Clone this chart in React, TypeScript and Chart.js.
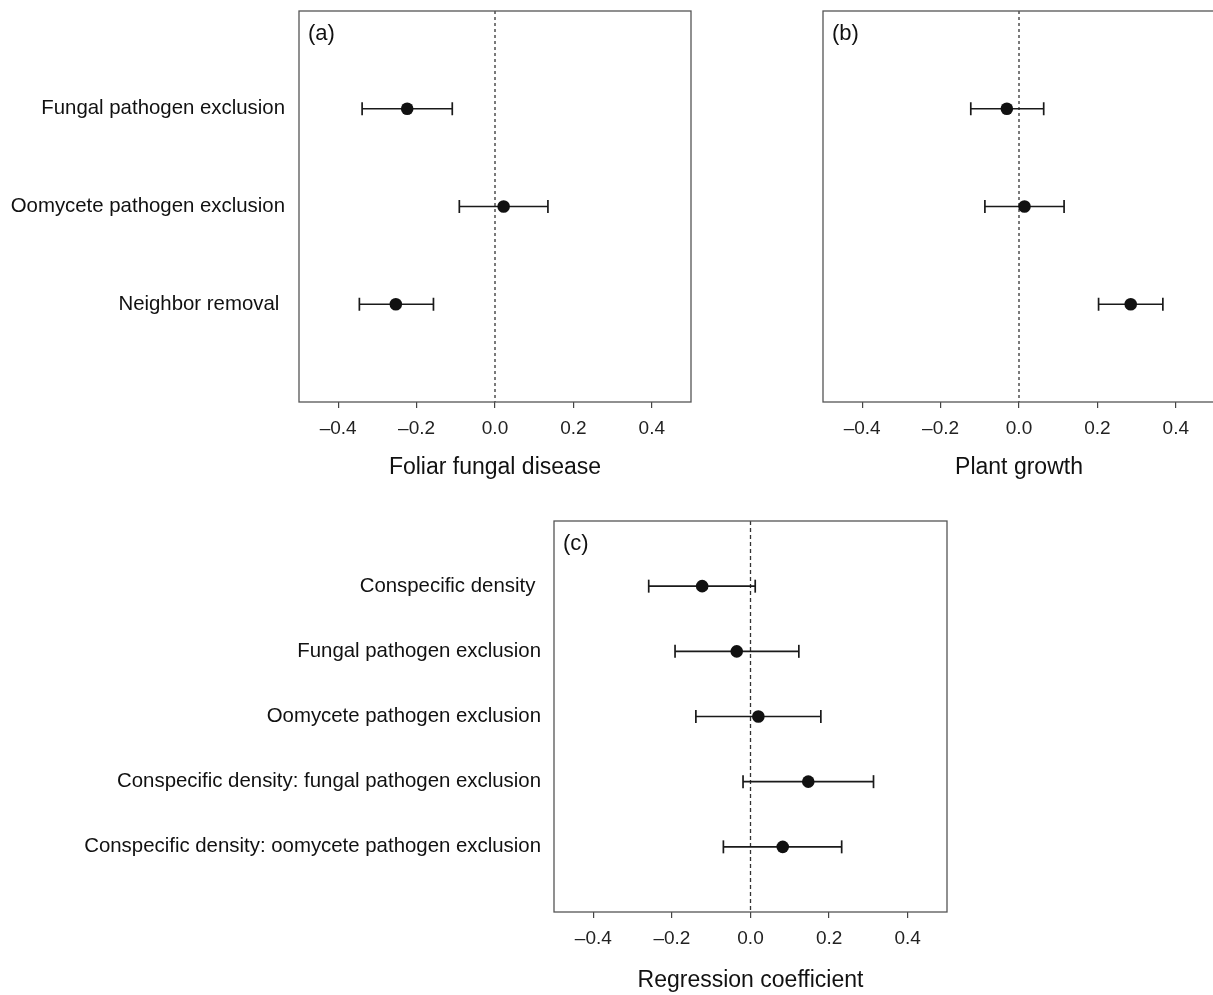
import React, { useEffect, useRef } from 'react';
import { Chart, registerables } from 'chart.js';

Chart.register(...registerables);

const FONT = "'Liberation Sans', Arial, Helvetica, sans-serif";

// x-axis tick values shared by all panels
const xTicks = [-0.4, -0.2, 0, 0.2, 0.4];

// Panel (a): Foliar fungal disease
const labelsA = ['Fungal pathogen exclusion', 'Oomycete pathogen exclusion', 'Neighbor removal '];
const estA = [-0.224, 0.022, -0.253];
const loA = [-0.339, -0.091, -0.346];
const hiA = [-0.109, 0.135, -0.157];

// Panel (b): Plant growth
const labelsB = ['Fungal pathogen exclusion', 'Oomycete pathogen exclusion', 'Neighbor removal '];
const estB = [-0.031, 0.014, 0.285];
const loB = [-0.123, -0.087, 0.203];
const hiB = [0.063, 0.115, 0.367];

// Panel (c): Regression coefficient
const labelsC = [
  'Conspecific density ',
  'Fungal pathogen exclusion',
  'Oomycete pathogen exclusion',
  'Conspecific density: fungal pathogen exclusion',
  'Conspecific density: oomycete pathogen exclusion',
];
const estC = [-0.123, -0.035, 0.02, 0.147, 0.082];
const loC = [-0.259, -0.192, -0.139, -0.019, -0.069];
const hiC = [0.012, 0.123, 0.179, 0.313, 0.232];

const fmt = (v: number) => {
  const a = Math.abs(v).toFixed(1);
  return v < -1e-9 ? '\u2013' + a : a;
};

const framePlugin = {
  id: 'frame',
  afterDraw(chart: any, _args: any, opts: any) {
    const { ctx, chartArea } = chart;
    const { left, top, right, bottom } = chartArea;
    ctx.save();
    ctx.strokeStyle = '#555';
    ctx.lineWidth = 1.3;
    ctx.strokeRect(left, top, right - left, bottom - top);
    ctx.fillStyle = '#111';
    ctx.font = `22px ${FONT}`;
    ctx.textBaseline = 'middle';
    ctx.textAlign = 'left';
    ctx.fillText(opts.tag, left + 9, top + 23);
    ctx.restore();
  },
};

interface PanelCfg {
  labels: string[];
  est: number[];
  lo: number[];
  hi: number[];
  tag: string;
  title: string;
  showY: boolean;
  yWidth: number;
  xHeight: number;
  padding: { top: number; right: number; bottom: number; left: number };
  titlePad: number;
  labelPad: number;
  dash: number[];
}

function buildConfig(p: PanelCfg): any {
  const n = p.labels.length;
  const rows = p.labels.map((_, i) => i + 1);
  const datasets: any[] = [
    {
      data: p.est.map((v, i) => ({ x: v, y: rows[i] })),
      pointRadius: 6.3,
      pointHoverRadius: 6.3,
      pointBackgroundColor: '#111',
      pointBorderColor: '#111',
      pointBorderWidth: 0,
    },
    ...p.lo.map((l, i) => ({
      showLine: true,
      data: [
        { x: l, y: rows[i] },
        { x: p.hi[i], y: rows[i] },
      ],
      borderColor: '#1a1a1a',
      borderWidth: 1.7,
      pointStyle: 'line',
      pointRotation: 90,
      pointRadius: 6.5,
      pointHoverRadius: 6.5,
      pointBorderColor: '#1a1a1a',
      pointBorderWidth: 1.7,
      pointBackgroundColor: '#1a1a1a',
    })),
    {
      showLine: true,
      data: [
        { x: 0, y: 0 },
        { x: 0, y: n + 1 },
      ],
      borderColor: '#333',
      borderWidth: 1.3,
      borderDash: p.dash,
      pointRadius: 0,
      pointHoverRadius: 0,
    },
  ];

  return {
    type: 'scatter',
    data: { datasets },
    plugins: [framePlugin],
    options: {
      animation: false,
      responsive: false,
      events: [],
      layout: { padding: p.padding },
      plugins: {
        legend: { display: false },
        tooltip: { enabled: false },
        frame: { tag: p.tag },
      },
      scales: {
        x: {
          type: 'linear',
          min: -0.5,
          max: 0.5,
          afterBuildTicks: (s: any) => {
            s.ticks = xTicks.map((v) => ({ value: v }));
          },
          afterFit: (s: any) => {
            s.height = p.xHeight;
            s.paddingLeft = 0;
            s.paddingRight = 0;
          },
          grid: {
            display: true,
            drawOnChartArea: false,
            drawTicks: true,
            tickLength: 6,
            color: '#444',
            lineWidth: 1.2,
          },
          border: { display: false },
          ticks: {
            font: { family: FONT, size: 19 },
            color: '#222',
            padding: 9,
            maxRotation: 0,
            autoSkip: false,
            callback: (v: any) => fmt(Number(v)),
          },
          title: {
            display: true,
            text: p.title,
            font: { family: FONT, size: 23 },
            color: '#111',
            padding: { top: 0, bottom: p.titlePad },
          },
        },
        y: {
          type: 'linear',
          min: 0,
          max: n + 1,
          reverse: true,
          afterBuildTicks: (s: any) => {
            s.ticks = rows.map((v) => ({ value: v }));
          },
          afterFit: (s: any) => {
            s.width = p.yWidth;
            s.paddingTop = 0;
            s.paddingBottom = 0;
          },
          grid: { display: false, drawTicks: false, tickLength: 0 },
          border: { display: false },
          ticks: {
            display: p.showY,
            font: { family: FONT, size: 20.4 },
            color: '#111',
            padding: p.labelPad,
            autoSkip: false,
            callback: (v: any) => p.labels[Number(v) - 1] ?? '',
          },
        },
      },
    },
  };
}

function Panel(props: { cfg: PanelCfg; left: number; top: number; width: number; height: number }) {
  const ref = useRef<HTMLCanvasElement | null>(null);
  useEffect(() => {
    const chart = new Chart(ref.current as HTMLCanvasElement, buildConfig(props.cfg));
    return () => chart.destroy();
  }, []);
  return (
    <canvas
      ref={ref}
      width={props.width}
      height={props.height}
      style={{ position: 'absolute', left: props.left, top: props.top, width: props.width, height: props.height }}
    />
  );
}

const cfgA: PanelCfg = {
  labels: labelsA,
  est: estA,
  lo: loA,
  hi: hiA,
  tag: '(a)',
  title: 'Foliar fungal disease',
  showY: true,
  yWidth: 299,
  xHeight: 98,
  padding: { top: 11, right: 69, bottom: 0, left: 0 },
  titlePad: 19,
  labelPad: 14,
  dash: [3, 3],
};

const cfgB: PanelCfg = {
  labels: labelsB,
  est: estB,
  lo: loB,
  hi: hiB,
  tag: '(b)',
  title: 'Plant growth',
  showY: false,
  yWidth: 63,
  xHeight: 98,
  padding: { top: 11, right: 65, bottom: 0, left: 0 },
  titlePad: 19,
  labelPad: 14,
  dash: [3, 3],
};

const cfgC: PanelCfg = {
  labels: labelsC,
  est: estC,
  lo: loC,
  hi: hiC,
  tag: '(c)',
  title: 'Regression coefficient',
  showY: true,
  yWidth: 554,
  xHeight: 83,
  padding: { top: 21, right: 53, bottom: 0, left: 0 },
  titlePad: 1,
  labelPad: 13,
  dash: [4, 3],
};

export default function App() {
  return (
    <div
      style={{
        position: 'fixed',
        left: 0,
        top: 0,
        width: 1213,
        height: 995,
        overflow: 'hidden',
        background: '#fff',
      }}
    >
      <Panel cfg={cfgA} left={0} top={0} width={760} height={500} />
      <Panel cfg={cfgB} left={760} top={0} width={520} height={500} />
      <Panel cfg={cfgC} left={0} top={500} width={1000} height={495} />
    </div>
  );
}
